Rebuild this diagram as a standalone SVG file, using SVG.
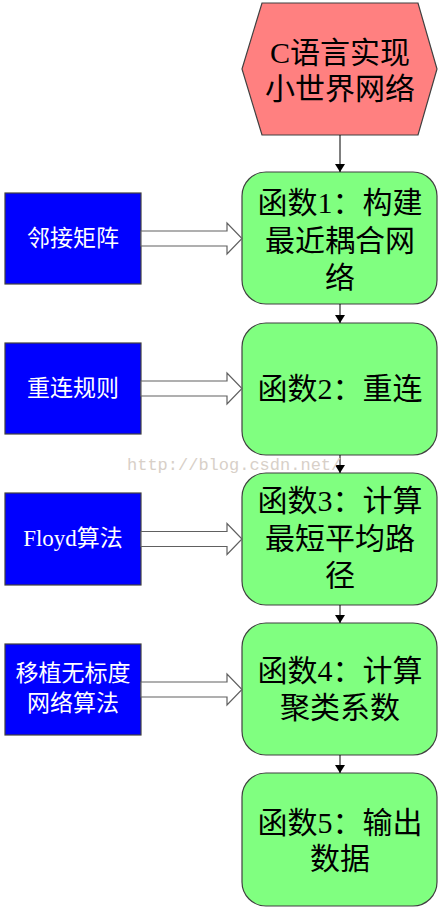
<svg xmlns="http://www.w3.org/2000/svg" width="444" height="909" viewBox="0 0 444 909">
<defs>
<marker id="ah" viewBox="0 0 8 10" refX="8" refY="5" markerWidth="8" markerHeight="10" markerUnits="userSpaceOnUse" orient="auto">
<path d="M0,0 L8,5 L0,10 z" fill="#000"/>
</marker>
</defs>
<style>
.g{fill:#80FF80;stroke:#404040;stroke-width:1.2}
.b{fill:#0000FF;stroke:#404040;stroke-width:1.2}
.h{fill:#FF8080;stroke:#404040;stroke-width:1.2}
.t{font-family:"Liberation Serif","Noto Sans CJK SC",serif;font-size:30px;fill:#000;text-anchor:middle;dominant-baseline:central}
.w{font-family:"Liberation Serif","Noto Sans CJK SC",serif;font-size:23px;fill:#fff;text-anchor:middle;dominant-baseline:central}
.ln{stroke:#000;stroke-width:1;fill:none}
.ba{fill:#fff;stroke:#606060;stroke-width:1.2}
.wm{font-family:"Liberation Mono",monospace;font-size:17px;fill:#d8d0c8}
</style>
<g id="start">
<polygon class="h" points="262,3 418,3 437,69 418,135 262,135 242,69"/>
<text class="t" x="340" y="52">C语言实现</text>
<text class="t" x="340" y="88">小世界网络</text>
</g>
<g id="f1">
<rect class="g" x="242" y="172" width="195" height="132" rx="24"/>
<text class="t" x="340" y="202">函数1：构建</text>
<text class="t" x="340" y="240">最近耦合网</text>
<text class="t" x="340" y="277">络</text>
</g>
<g id="f2">
<rect class="g" x="242" y="323" width="195" height="132" rx="24"/>
<text class="t" x="340" y="388">函数2：重连</text>
</g>
<g id="f3">
<rect class="g" x="242" y="473" width="195" height="132" rx="24"/>
<text class="t" x="340" y="500">函数3：计算</text>
<text class="t" x="340" y="538">最短平均路</text>
<text class="t" x="340" y="575">径</text>
</g>
<g id="f4">
<rect class="g" x="242" y="623" width="195" height="132" rx="24"/>
<text class="t" x="340" y="670">函数4：计算</text>
<text class="t" x="340" y="707">聚类系数</text>
</g>
<g id="f5">
<rect class="g" x="242" y="773" width="195" height="133" rx="24"/>
<text class="t" x="340" y="822">函数5：输出</text>
<text class="t" x="340" y="858">数据</text>
</g>
<g id="in1">
<rect class="b" x="5" y="193" width="136" height="91"/>
<text class="w" x="73" y="238">邻接矩阵</text>
</g>
<g id="in2">
<rect class="b" x="5" y="343" width="136" height="91"/>
<text class="w" x="73" y="388">重连规则</text>
</g>
<g id="in3">
<rect class="b" x="5" y="493" width="136" height="92"/>
<text class="w" x="73" y="538">Floyd算法</text>
</g>
<g id="in4">
<rect class="b" x="5" y="644" width="136" height="91"/>
<text class="w" x="73" y="673">移植无标度</text>
<text class="w" x="73" y="703">网络算法</text>
</g>
<g id="connectors">
<line class="ln" x1="340" y1="135" x2="340" y2="172" marker-end="url(#ah)"/>
<line class="ln" x1="340" y1="304" x2="340" y2="323" marker-end="url(#ah)"/>
<line class="ln" x1="340" y1="455" x2="340" y2="473" marker-end="url(#ah)"/>
<line class="ln" x1="340" y1="605" x2="340" y2="623" marker-end="url(#ah)"/>
<line class="ln" x1="340" y1="755" x2="340" y2="773" marker-end="url(#ah)"/>
<polygon class="ba" points="141,231 227,231 227,223 242,238.5 227,254 227,246 141,246"/>
<polygon class="ba" points="141,381 227,381 227,373 242,388.5 227,404 227,396 141,396"/>
<polygon class="ba" points="141,531.5 227,531.5 227,523.5 242,539 227,554.5 227,546.5 141,546.5"/>
<polygon class="ba" points="141,682 227,682 227,674 242,689.5 227,705 227,697 141,697"/>
</g>
<text class="wm" x="127" y="470">http://blog.csdn.net/</text>
</svg>
